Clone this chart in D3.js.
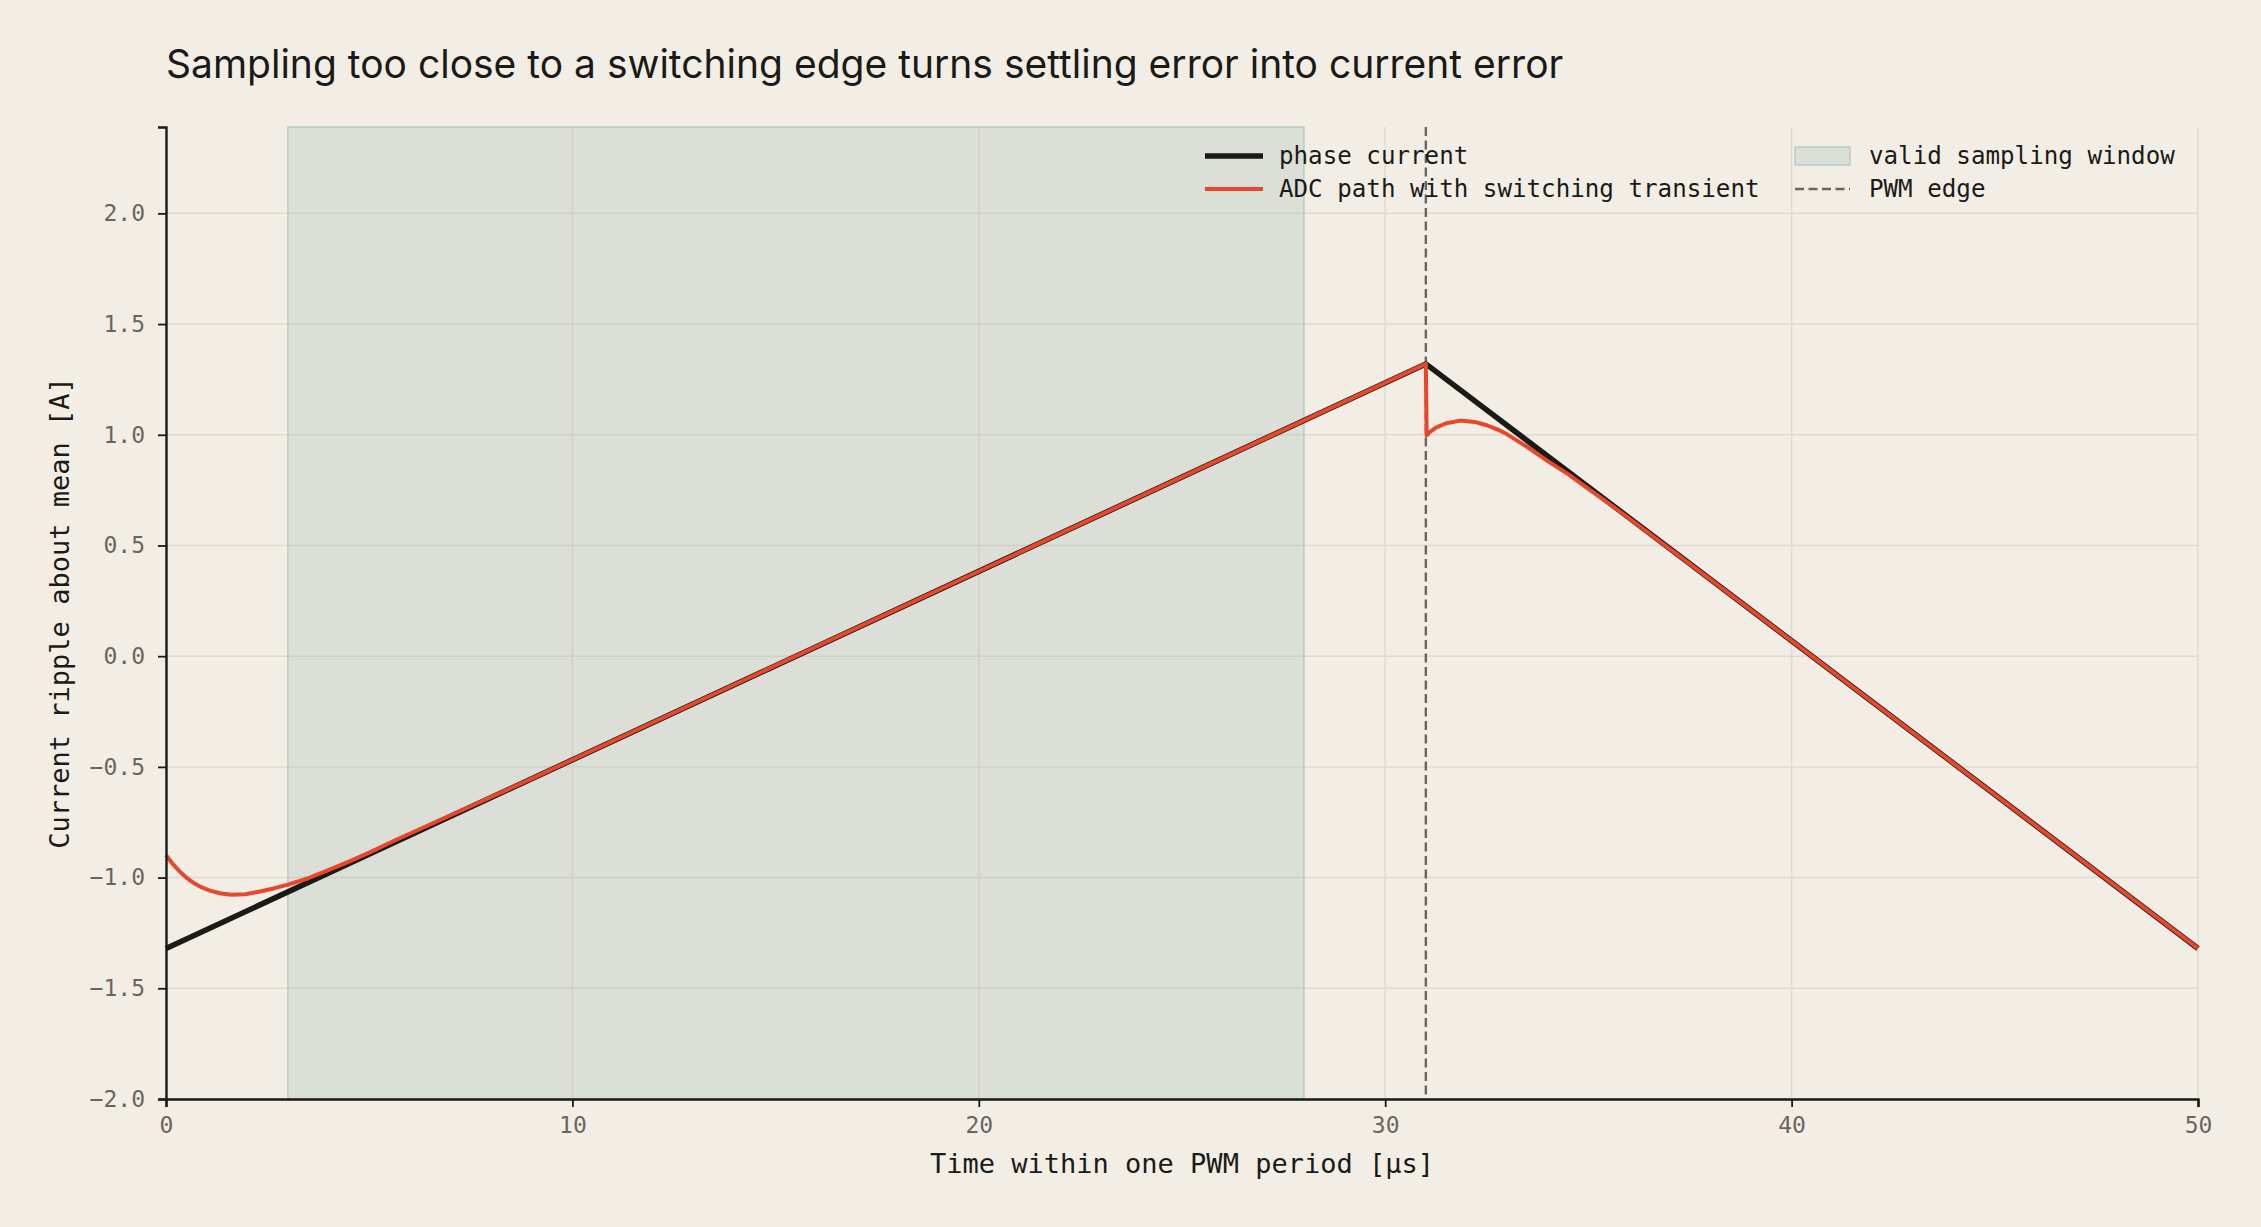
<!DOCTYPE html>
<html>
<head>
<meta charset="utf-8">
<script src="https://cdn.jsdelivr.net/npm/d3@7"></script>
<style>
	body { margin: 0; background: #f2eee6; }
	svg { display: block; }
</style>
</head>
<body>
<div id="chart"></div>
<script>
// values
const title = "Sampling too close to a switching edge turns settling error into current error"
const xLabel = "Time within one PWM period [μs]"
const yLabel = "Current ripple about mean [A]"
const xTicks = [0, 10, 20, 30, 40, 50]
const yTicks = [-2.0, -1.5, -1.0, -0.5, 0.0, 0.5, 1.0, 1.5, 2.0]

const phaseT = [0, 31, 50]
const phaseI = [-1.32, 1.32, -1.32]

const adcT = [0, 0.15, 0.34, 0.5, 0.67, 0.85, 1.08, 1.35, 1.62, 1.95, 2.31, 2.65, 3.0, 3.5, 3.95, 4.5, 5.0, 5.6, 6.5, 7.5, 9.0,
	31.0, 31.02, 31.1, 31.25, 31.5, 31.85, 32.2, 32.5, 32.8, 33.0, 33.5, 34.0, 34.5, 35.0, 35.5, 36.0, 37.0, 38.0, 50]
const adcI = [-0.898, -0.935, -0.973, -1.0, -1.023, -1.042, -1.059, -1.072, -1.078, -1.075, -1.063, -1.049, -1.032, -1.003, -0.97, -0.928, -0.887, -0.835, -0.76, -0.678, -0.553,
	1.32, 0.997, 1.013, 1.032, 1.052, 1.064, 1.058, 1.043, 1.021, 1.002, 0.944, 0.881, 0.822, 0.756, 0.69, 0.622, 0.485, 0.347, -1.32]

const validWindow = [3, 28]
const pwmEdge = 31

const legendLines = ["phase current", "ADC path with switching transient"]
const legendOther = ["valid sampling window", "PWM edge"]

var W = 2261, H = 1227
var margin = {top: 127, right: 63, bottom: 128, left: 166},
	width = W - margin.left - margin.right,
	height = H - margin.top - margin.bottom

var ink = "#1a1a17", grey = "#6b655e", red = "#e8472b", grid = "#e0dbcd"
var mono = "'DejaVu Sans Mono', monospace"

const svg = d3.select("#chart")
	.append("svg")
		.attr("width", W)
		.attr("height", H)
		.style("background", "#f2eee6")

svg.append("text")
	.attr("x", margin.left)
	.attr("y", 78)
	.attr("font-family", "Inter, sans-serif")
	.attr("font-size", 39)
	.attr("fill", ink)
	.text(title)

const g = svg.append("g")
	.attr("transform", `translate(${margin.left},${margin.top})`)

const x = d3.scaleLinear().domain([0, 50]).range([0, width])
const y = d3.scaleLinear().domain([-2, 2.39]).range([height, 0])

// grid
g.append("g").selectAll("line").data(xTicks).join("line")
	.attr("x1", d => x(d)).attr("x2", d => x(d))
	.attr("y1", 0).attr("y2", height)
	.attr("stroke", grid).attr("stroke-width", 1.5)
g.append("g").selectAll("line").data(yTicks).join("line")
	.attr("x1", 0).attr("x2", width)
	.attr("y1", d => y(d)).attr("y2", d => y(d))
	.attr("stroke", grid).attr("stroke-width", 1.5)

// valid sampling window
g.append("rect")
	.attr("x", x(validWindow[0]))
	.attr("y", 0)
	.attr("width", x(validWindow[1]) - x(validWindow[0]))
	.attr("height", height)
	.attr("fill", "#9ab2ae")
	.attr("fill-opacity", 0.25)
	.attr("stroke", "#b9cbc6")
	.attr("stroke-width", 1.5)

// pwm edge
g.append("line")
	.attr("x1", x(pwmEdge)).attr("x2", x(pwmEdge))
	.attr("y1", 0).attr("y2", height)
	.attr("stroke", grey)
	.attr("stroke-width", 2.4)
	.attr("stroke-dasharray", "9,4.5")

const line = d3.line()
	.x(d => x(d[0]))
	.y(d => y(d[1]))

g.append("path")
	.datum(d3.zip(phaseT, phaseI))
	.attr("fill", "none")
	.attr("stroke", ink)
	.attr("stroke-width", 5.5)
	.attr("stroke-linejoin", "round")
	.attr("d", line)

g.append("path")
	.datum(d3.zip(adcT, adcI))
	.attr("fill", "none")
	.attr("stroke", red)
	.attr("stroke-width", 4)
	.attr("stroke-linejoin", "round")
	.attr("d", line)

// axes
const xAxis = g.append("g")
	.attr("transform", `translate(0,${height})`)
	.call(d3.axisBottom(x).tickValues(xTicks).tickFormat(d3.format("d")).tickSize(8).tickPadding(10))
const yAxis = g.append("g")
	.call(d3.axisLeft(y).tickValues(yTicks).tickFormat(d3.format(".1f")).tickSize(8).tickPadding(13))

for (let ax of [xAxis, yAxis]) {
	ax.select(".domain").attr("stroke", ink).attr("stroke-width", 2.4)
	ax.selectAll(".tick line").attr("stroke", ink).attr("stroke-width", 1.8)
	ax.selectAll(".tick text")
		.attr("fill", grey)
		.attr("font-family", mono)
		.attr("font-size", 23)
}

svg.append("text")
	.attr("x", margin.left + width / 2)
	.attr("y", 1173)
	.attr("text-anchor", "middle")
	.attr("font-family", mono)
	.attr("font-size", 27)
	.attr("fill", ink)
	.text(xLabel)

svg.append("text")
	.attr("transform", `translate(69,${margin.top + height / 2}) rotate(-90)`)
	.attr("text-anchor", "middle")
	.attr("font-family", mono)
	.attr("font-size", 27)
	.attr("fill", ink)
	.text(yLabel)

// legend
const leg = svg.append("g")
let rows = [156, 189]
leg.append("line")
	.attr("x1", 1205).attr("x2", 1263).attr("y1", rows[0]).attr("y2", rows[0])
	.attr("stroke", ink).attr("stroke-width", 5.5)
leg.append("line")
	.attr("x1", 1205).attr("x2", 1263).attr("y1", rows[1]).attr("y2", rows[1])
	.attr("stroke", red).attr("stroke-width", 4)
leg.append("rect")
	.attr("x", 1795).attr("y", rows[0] - 9).attr("width", 55).attr("height", 18)
	.attr("fill", "#9ab2ae").attr("fill-opacity", 0.25)
	.attr("stroke", "#b9cbc6").attr("stroke-width", 1.5)
leg.append("line")
	.attr("x1", 1795).attr("x2", 1850).attr("y1", rows[1]).attr("y2", rows[1])
	.attr("stroke", grey).attr("stroke-width", 2.4).attr("stroke-dasharray", "9,4.5")

leg.selectAll("text.a").data(legendLines).join("text")
	.attr("x", 1279).attr("y", (d, i) => rows[i]).attr("dy", "0.35em")
	.attr("font-family", mono).attr("font-size", 24.2).attr("fill", ink)
	.text(d => d)
leg.selectAll("text.b").data(legendOther).join("text")
	.attr("x", 1869).attr("y", (d, i) => rows[i]).attr("dy", "0.35em")
	.attr("font-family", mono).attr("font-size", 24.2).attr("fill", ink)
	.text(d => d)
</script>
</body>
</html>
